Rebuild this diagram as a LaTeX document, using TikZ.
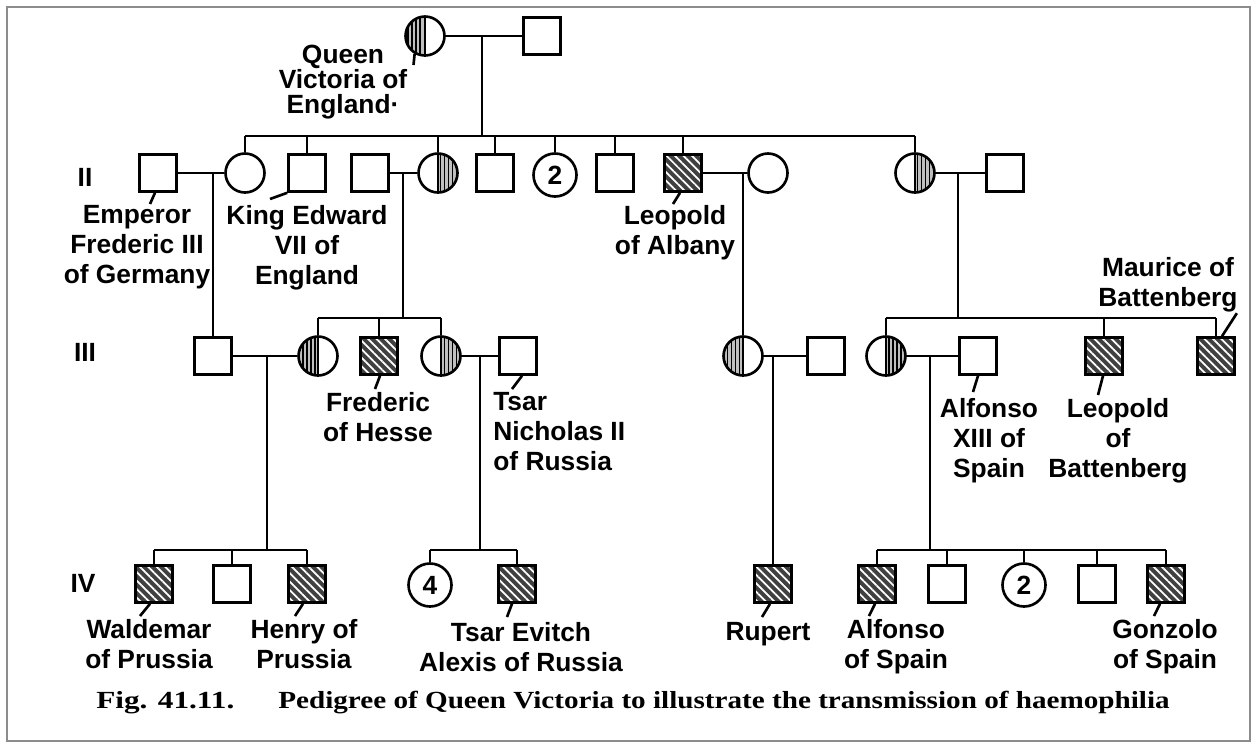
\documentclass[tikz,border=0pt]{standalone}
\usepackage{fontspec}
\setmainfont{Liberation Sans}
\newfontfamily\capfont{Liberation Serif}
\usetikzlibrary{patterns.meta}

\tikzset{
  sym/.style={draw, line width=1.5pt, inner sep=0pt},
  male/.style={sym, rectangle, minimum size=0.74cm},
  female/.style={sym, circle, minimum size=0.78cm},
  group/.style={female, minimum size=0.86cm, font=\fontsize{15}{17}\selectfont\bfseries},
  affected/.style={male, fill=black!75,
    path picture={\fill[pattern={Lines[angle=-45, distance=3.4pt, line width=1pt]}, pattern color=white]
      (path picture bounding box.south west) rectangle (path picture bounding box.north east);}},
  carrierL/.style={female,
    path picture={\fill[black!25] (path picture bounding box.south west) rectangle (path picture bounding box.north);
      \fill[pattern={Lines[angle=90, distance=2.3pt, line width=0.9pt]}]
      (path picture bounding box.south west) rectangle (path picture bounding box.north);
      \draw[line width=1.2pt] (path picture bounding box.south) -- (path picture bounding box.north);}},
  carrierR/.style={female,
    path picture={\fill[black!25] (path picture bounding box.south east) rectangle (path picture bounding box.north);
      \fill[pattern={Lines[angle=90, distance=2.3pt, line width=0.9pt]}]
      (path picture bounding box.south east) rectangle (path picture bounding box.north);
      \draw[line width=1.2pt] (path picture bounding box.south) -- (path picture bounding box.north);}},
  lbl/.style={font=\fontsize{15}{17}\selectfont\bfseries, align=center, inner sep=0pt, anchor=north},
  gen/.style={font=\fontsize{15}{17}\selectfont\bfseries, inner sep=0pt},
  capt/.style={font=\capfont\bfseries\fontsize{14}{16}\selectfont, inner sep=0pt, anchor=base west}
}

\begin{document}
\begin{tikzpicture}[x=0.02cm, y=-0.02cm, line width=1.5pt]

\useasboundingbox (0,0) rectangle (1257,748);
\draw[black!45, line width=1.2pt] (7,7) rectangle (1250,741);

% ============================================================
%  GENERATION I  --  y = 36
% ============================================================
\node[carrierL] (qv) at (425,36) {};
\node[male] (albert) at (542,36) {};
\draw (qv) -- (albert);
\coordinate (m1) at (482,36);
\coordinate (sib2) at (482,136);
\draw (m1) -- (sib2);

\node[lbl, font=\fontsize{15}{14.2}\selectfont\bfseries] (qvlbl) at (343,44) {Queen\\Victoria of\\England·};
\draw (qv.240) -- ([shift={(5,21)}]qvlbl.north east);

% ============================================================
%  GENERATION II  --  y = 173, sibship bar at y = 136
% ============================================================
\node[gen] (g2) at (85,177) {II};

\node[male]     (fred3)    at (158,173) {};
\node[female]   (vicky)    at (245,173) {};
\node[male]     (edw7)     at (307,173) {};
\node[male]     (louis)    at (370,173) {};
\node[carrierR] (alice)    at (438,173) {};
\node[male]     (son3)     at (495,173) {};
\node[group]    (dau2)     at (555,175) {2};
\node[male]     (son4)     at (615,173) {};
\node[affected] (leopold)  at (683,173) {};
\node[female]   (helena)   at (768,173) {};
\node[carrierR] (beatrice) at (915,173) {};
\node[male]     (henry)    at (1005,173) {};

% ---- sibship bar and drops ----
\draw (vicky |- sib2) -- (beatrice |- sib2);
\draw (vicky |- sib2) -- (vicky);
\draw (edw7 |- sib2) -- (edw7);
\draw (alice |- sib2) -- (alice);
\draw (son3 |- sib2) -- (son3);
\draw (dau2 |- sib2) -- (dau2);
\draw (son4 |- sib2) -- (son4);
\draw (leopold |- sib2) -- (leopold);
\draw (beatrice |- sib2) -- (beatrice);

% ---- marriages ----
\draw (fred3) -- (vicky);
\draw (louis) -- (alice);
\draw (leopold) -- (helena);
\draw (beatrice) -- (henry);

% ---- names ----
\node[lbl] (fredlbl) at (137,204) {Emperor\\Frederic III\\of Germany};
\node[lbl] (edwlbl) at (307,204) {King Edward\\VII of\\England};
\node[lbl] (leolbl) at (675,204) {Leopold\\of Albany};
\draw ([shift={(-3,0)}]fred3.south) -- ([shift={(13,0)}]fredlbl.north);
\draw (edw7.south west) -- ([shift={(-37,-5)}]edwlbl.north);
\draw ([shift={(-3,0)}]leopold.south) -- ([shift={(-2,0)}]leolbl.north);

% ============================================================
%  GENERATION III  --  y = 356, sibship bars at y = 318
% ============================================================
\node[gen] (g3) at (85,352) {III};

\node[male]     (prince)    at (213,356) {};
\node[carrierL] (irene)     at (318,356) {};
\node[affected] (fritz)     at (379,356) {};
\node[carrierR] (alix)      at (441,356) {};
\node[male]     (nicholas)  at (518,356) {};
\node[carrierL] (alicea)    at (743,356) {};
\node[male]     (alex)      at (826,356) {};
\node[carrierR] (ena)       at (886,356) {};
\node[male]     (alfonso13) at (978,356) {};
\node[affected] (leobat)    at (1104,356) {};
\node[affected] (maurice)   at (1216,356) {};

% ---- descent from generation II ----
\coordinate (m2a) at (213,173);
\coordinate (m2b) at (403,173);
\coordinate (m2c) at (743,173);
\coordinate (m2d) at (958,173);
\coordinate (sib3a) at (403,318);
\coordinate (sib3b) at (958,318);
\draw (m2a) -- (prince);
\draw (m2b) -- (sib3a);
\draw (irene |- sib3a) -- (alix |- sib3a);
\draw (irene |- sib3a) -- (irene);
\draw (fritz |- sib3a) -- (fritz);
\draw (alix |- sib3a) -- (alix);
\draw (m2c) -- (alicea);
\draw (m2d) -- (sib3b);
\draw (ena |- sib3b) -- (maurice |- sib3b);
\draw (ena |- sib3b) -- (ena);
\draw (leobat |- sib3b) -- (leobat);
\draw (maurice |- sib3b) -- (maurice);

% ---- marriages ----
\draw (prince) -- (irene);
\draw (alix) -- (nicholas);
\draw (alicea) -- (alex);
\draw (ena) -- (alfonso13);

% ---- names ----
\node[lbl] (fritzlbl) at (378,391) {Frederic\\of Hesse};
\node[lbl, anchor=north west, align=left] (nicklbl) at (492,391) {Tsar\\Nicholas II\\of Russia};
\node[lbl] (alf13lbl) at (989,397) {Alfonso\\XIII of\\Spain};
\node[lbl] (leobatlbl) at (1118,397) {Leopold\\of\\Battenberg};
\node[lbl] (mauricelbl) at (1168,256) {Maurice of\\Battenberg};
\draw ([shift={(1,0)}]fritz.south) -- ([shift={(-3,-2)}]fritzlbl.north);
\draw ([shift={(4,0)}]nicholas.south) -- ([shift={(20,-2)}]nicklbl.north west);
\draw ([shift={(0,0)}]alfonso13.south) -- ([shift={(-16,-5)}]alf13lbl.north);
\draw ([shift={(-1,0)}]leobat.south) -- ([shift={(-20,-2)}]leobatlbl.north);
\draw ([shift={(6,0)}]maurice.north) -- ([shift={(-2,0)}]mauricelbl.south east);

% ============================================================
%  GENERATION IV  --  y = 584, sibship bars at y = 550
% ============================================================
\node[gen] (g4) at (83,583) {IV};

\node[affected] (waldemar) at (154,584) {};
\node[male]     (son5)     at (232,584) {};
\node[affected] (henryp)   at (307,584) {};
\node[group]    (dau4)     at (430,585) {4};
\node[affected] (alexis)   at (517,584) {};
\node[affected] (rupert)   at (773,584) {};
\node[affected] (alfonso)  at (877,584) {};
\node[male]     (son6)     at (947,584) {};
\node[group]    (dau5)     at (1024,585) {2};
\node[male]     (son7)     at (1097,584) {};
\node[affected] (gonzalo)  at (1166,584) {};

% ---- descent from generation III ----
\coordinate (m3a) at (267,356);
\coordinate (m3b) at (480,356);
\coordinate (m3c) at (773,356);
\coordinate (m3d) at (930,356);
\coordinate (sib4a) at (267,550);
\coordinate (sib4b) at (480,550);
\coordinate (sib4c) at (930,550);
\draw (m3a) -- (sib4a);
\draw (waldemar |- sib4a) -- (henryp |- sib4a);
\draw (waldemar |- sib4a) -- (waldemar);
\draw (son5 |- sib4a) -- (son5);
\draw (henryp |- sib4a) -- (henryp);
\draw (m3b) -- (sib4b);
\draw (dau4 |- sib4b) -- (alexis |- sib4b);
\draw (dau4 |- sib4b) -- (dau4);
\draw (alexis |- sib4b) -- (alexis);
\draw (m3c) -- (rupert);
\draw (m3d) -- (sib4c);
\draw (alfonso |- sib4c) -- (gonzalo |- sib4c);
\draw (alfonso |- sib4c) -- (alfonso);
\draw (son6 |- sib4c) -- (son6);
\draw (dau5 |- sib4c) -- (dau5);
\draw (son7 |- sib4c) -- (son7);
\draw (gonzalo |- sib4c) -- (gonzalo);

% ---- names ----
\node[lbl] (waldlbl) at (149,618) {Waldemar\\of Prussia};
\node[lbl] (henlbl) at (304,618) {Henry of\\Prussia};
\node[lbl] (alexlbl) at (521,621) {Tsar Evitch\\Alexis of Russia};
\node[lbl] (rupertlbl) at (768,621) {Rupert};
\node[lbl] (alfonsolbl) at (896,618) {Alfonso\\of Spain};
\node[lbl] (gonzlbl) at (1165,618) {Gonzolo\\of Spain};
\draw ([shift={(-4,0)}]waldemar.south) -- ([shift={(-9,-2)}]waldlbl.north);
\draw ([shift={(-4,0)}]henryp.south) -- ([shift={(-9,-2)}]henlbl.north);
\draw ([shift={(-5,0)}]alexis.south) -- ([shift={(-14,-4)}]alexlbl.north);
\draw ([shift={(-3,0)}]rupert.south) -- ([shift={(-6,-4)}]rupertlbl.north);
\draw ([shift={(-2,0)}]alfonso.south) -- ([shift={(-27,-2)}]alfonsolbl.north);
\draw ([shift={(-6,0)}]gonzalo.south) -- ([shift={(-11,-2)}]gonzlbl.north);

% ---- caption ----
\node[capt] (figno) at (95,708) {\scalebox{1.27}[1]{Fig. 41.11.}};
\node[capt] (figcap) at (277,708) {\scalebox{1.185}[1]{Pedigree of Queen Victoria to illustrate the transmission of haemophilia}};

\end{tikzpicture}
\end{document}
